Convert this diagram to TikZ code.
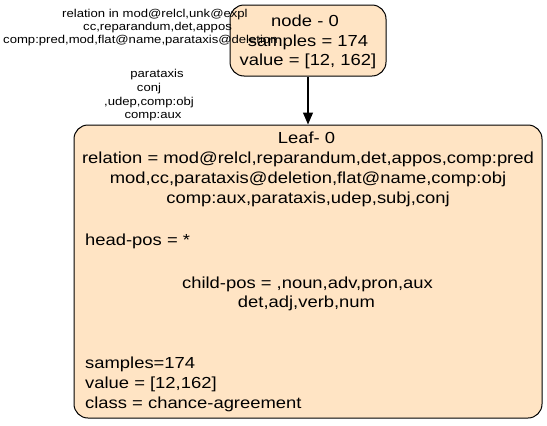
\documentclass[tikz,border=0pt]{standalone}
\usepackage{fontspec}
\setmainfont{Liberation Sans}
\newfontfamily\graphfont[FakeStretch=1.15]{Liberation Sans}
\usetikzlibrary{positioning, arrows.meta}
\definecolor{bisque}{RGB}{255,228,196}
\tikzset{
    treenode/.style={rectangle, rounded corners=14pt, draw=black, fill=bisque, line width=1pt, inner sep=0pt},
    bigtext/.style={font=\graphfont\fontsize{16}{19}\selectfont, inner sep=0pt},
    smalltext/.style={font=\graphfont\fontsize{11.4}{13}\selectfont, inner sep=0pt},
}

\begin{document}
\begin{tikzpicture}[x=1pt, y=-1pt]
        \useasboundingbox (0,0) rectangle (547,426);
        % the two boxes
        \node [treenode, minimum width=156pt, minimum height=71pt] (node0) at (308,40.5) {};
        \node [treenode, minimum width=468pt, minimum height=293pt] (leaf0) at (308,271.5) {};
        \draw[-{Triangle[length=12pt, width=10pt]}, line width=1.1pt] (node0) -- (leaf0);
        % top box
        \node [bigtext, anchor=base] (nodetitle) at (305,26.5) {node - 0};
        \node [bigtext, anchor=base] (nodesamples) at (308,46) {samples = 174};
        \node [bigtext, anchor=base] (nodevalue) at (308,65.5) {value = [12, 162]};
        % edge labels
        \node [smalltext, anchor=base west] (rel1) at (62,17) {relation in mod@relcl,unk@expl};
        \node [smalltext, anchor=base west] (rel2) at (83,30) {cc,reparandum,det,appos};
        \node [smalltext, anchor=base west] (rel3) at (3,43.5) {comp:pred,mod,flat@name,parataxis@deletion};
        \node [smalltext, anchor=base] (par1) at (157,77) {parataxis};
        \node [smalltext, anchor=base] (par2) at (149,91) {conj};
        \node [smalltext, anchor=base] (par3) at (149,105) {,udep,comp:obj};
        \node [smalltext, anchor=base] (par4) at (153,118) {comp:aux};
        % leaf box
        \node [bigtext, anchor=base] (leaftitle) at (306.5,143.5) {Leaf- 0};
        \node [bigtext, anchor=base] (leafrel1) at (308,163.5) {relation = mod@relcl,reparandum,det,appos,comp:pred};
        \node [bigtext, anchor=base] (leafrel2) at (308,183.5) {mod,cc,parataxis@deletion,flat@name,comp:obj};
        \node [bigtext, anchor=base] (leafrel3) at (308,203.5) {comp:aux,parataxis,udep,subj,conj};
        \node [bigtext, anchor=base west] (leafhead) at (85,245.5) {head-pos = *};
        \node [bigtext, anchor=base] (leafchild1) at (307.5,288.5) {child-pos = ,noun,adv,pron,aux};
        \node [bigtext, anchor=base] (leafchild2) at (306.5,307.5) {det,adj,verb,num};
        \node [bigtext, anchor=base west] (leafsamples) at (85,368.5) {samples=174};
        \node [bigtext, anchor=base west] (leafvalue) at (85,388.5) {value = [12,162]};
        \node [bigtext, anchor=base west] (leafclass) at (85,408.5) {class = chance-agreement};
\end{tikzpicture}
\end{document}
